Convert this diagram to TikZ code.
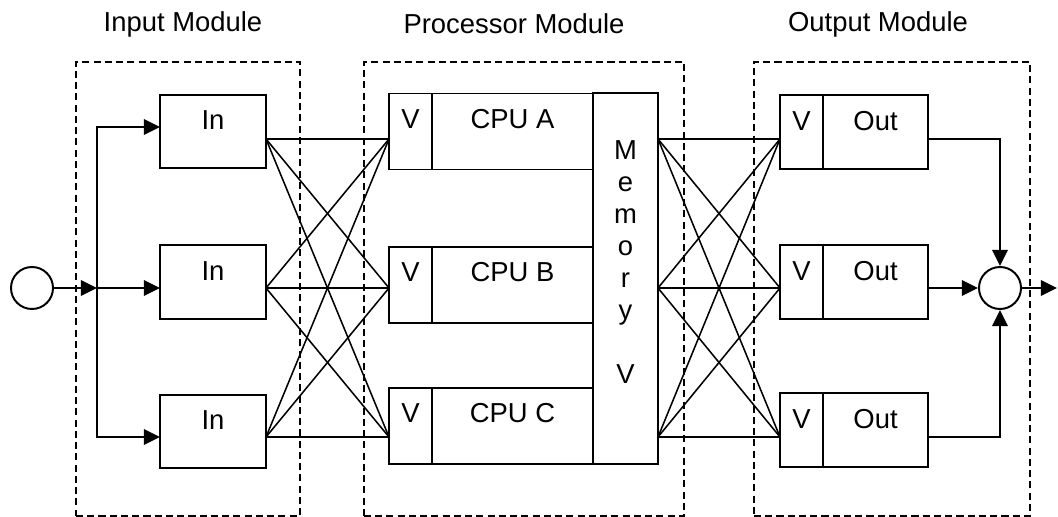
\documentclass[tikz,border=0pt]{standalone}
\usepackage{fontspec}
\setmainfont{Liberation Sans}
\usetikzlibrary{arrows.meta,positioning}
\newcommand{\dfont}{\fontsize{19.5pt}{22.8pt}\selectfont}
\tikzset{
  blk/.style={draw, line width=1.4pt, inner sep=0pt, outer sep=0pt, font=\dfont,
    text height=0.87cm, text depth=0.96cm},
  wire/.style={line width=1.1pt},
  arr/.style={line width=1.4pt, -{Triangle[length=11.5pt,width=11pt]}},
  ring/.style={draw, circle, line width=1.4pt, minimum size=1.05cm, inner sep=0pt},
  modbox/.style={draw, line width=1.2pt, dash pattern=on 5pt off 3pt, inner sep=0pt},
  title/.style={font=\dfont, inner sep=0pt},
}

\begin{document}
\begin{tikzpicture}[x=0.025cm, y=-0.025cm]
  \useasboundingbox (0,0) rectangle (1058,517);

  % row levels for the connectors
  \coordinate (r0) at (0,127);
  \coordinate (r1) at (0,139);
  \coordinate (r2) at (0,288);
  \coordinate (r3) at (0,437);

  % module frames (dashed) and titles
  \node[modbox, minimum width=5.6cm, minimum height=11.35cm] (inmod) at (188,289) {};
  \node[modbox, minimum width=8cm, minimum height=11.35cm] (prmod) at (524,289) {};
  \node[modbox, minimum width=6.9cm, minimum height=11.35cm] (outmod) at (892,289) {};
  \node[title] (intitle) at (183,24) {Input Module};
  \node[title] (prtitle) at (514,24) {Processor Module};
  \node[title] (outtitle) at (878,24) {Output Module};

  % input side: source and fan-out
  \node[ring] (src) at (32,288) {};
  \coordinate (fork) at (97,288);
  \foreach \i/\y in {1/131.5,2/282,3/431.5}
    \node[blk, minimum width=2.65cm] (in\i) at (213,\y) {In};
  \draw[arr] (src) -- (fork);
  \draw[arr] (fork) |- (in1.west |- r0);
  \draw[arr] (fork) -- (in2.west |- r2);
  \draw[arr] (fork) |- (in3.west |- r3);

  % processors with voters, shared memory
  \foreach \i/\c/\y in {1/A/131.5,2/B/285,3/C/426} {
    \node[blk, minimum width=1.075cm, text depth=1.03cm] (v\i) at (410.5,\y) {V};
    \node[blk, minimum width=4.025cm, text depth=1.03cm, right=0pt of v\i] (cpu\i) {CPU \c};
  }
  \node[draw, line width=1.4pt, inner sep=0pt, outer sep=0pt,
    minimum width=1.625cm, minimum height=9.275cm] (mem) at (625.5,278.5) {};
  \node[font=\dfont, align=center, inner sep=0pt, anchor=north] (memtxt) at (625.5,140)
    {M\\e\\m\\o\\r\\y\\[22.8pt]V};

  % output side
  \foreach \i/\y in {1/132,2/282,3/430} {
    \node[blk, minimum width=1.075cm] (w\i) at (801.5,\y) {V};
    \node[blk, minimum width=2.625cm, right=0pt of w\i] (out\i) {Out};
  }
  \node[ring] (sum) at (1000,288) {};
  \coordinate (sink) at (1057,288);

  % cross wiring
  \foreach \i in {1,2,3}
    \foreach \j in {1,2,3} {
      \draw[wire] (in\i.east |- r\i) -- (v\j.west |- r\j);
      \draw[wire] (mem.east |- r\i) -- (w\j.west |- r\j);
    }

  % merge into the output
  \draw[arr] (out1.east |- r1) -| (sum.north);
  \draw[arr] (out2.east |- r2) -- (sum.west);
  \draw[arr] (out3.east |- r3) -| (sum.south);
  \draw[arr] (sum) -- (sink);

\end{tikzpicture}
\end{document}
